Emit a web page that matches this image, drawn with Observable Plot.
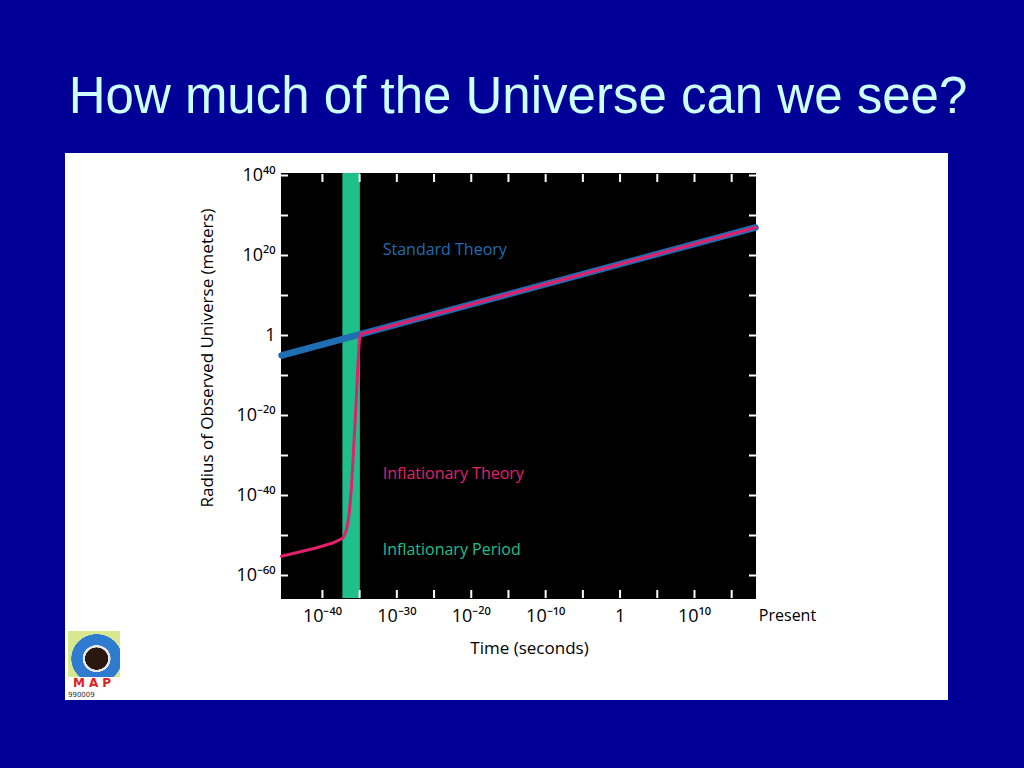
<!DOCTYPE html>
<html>
<head>
<meta charset="utf-8">
<script src="https://cdn.jsdelivr.net/npm/d3@7"></script>
<script src="https://cdn.jsdelivr.net/npm/@observablehq/plot@0.6"></script>
<style>
  html, body { margin: 0; padding: 0; }
  body { width: 1024px; height: 768px; background: #000096; position: relative; overflow: hidden; }
  #title { position: absolute; left: 0; width: 1036px; top: 71px; text-align: center;
           font-family: "Liberation Sans", Arial, sans-serif; font-size: 51px; line-height: 50px; color: #ccffff; }
  #chart { position: absolute; left: 65px; top: 153px; }
  #logo { position: absolute; left: 66px; top: 630px; width: 56px; height: 70px; background: #fff; }
  #logo .pic { position: absolute; left: 2px; top: 1px; width: 52px; height: 46px;
               background: radial-gradient(ellipse at 55% 60%, #2a1810 0 28%, #e8e8e8 29% 34%, #2f7bd0 35% 62%, #d8e890 63%); }
  #logo .map { position: absolute; left: 0; top: 46px; width: 56px; text-align: center; font: bold 12px "DejaVu Sans", sans-serif; color: #e02020; letter-spacing: 4px; }
  #logo .num { position: absolute; left: 2px; top: 61px; font: 7px "DejaVu Sans", sans-serif; color: #333; }
</style>
</head>
<body>
<div id="title">How much of the Universe can we see?</div>
<div id="chart"></div>
<div id="logo"><div class="pic"></div><div class="map">MAP</div><div class="num">990009</div></div>
<script>
// Values are base-10 exponents (log10 of seconds / meters)
const xDomain = [-45.5, 18.2];
const yDomain = [-65.75, 40.5];

const standardTime = [-45.5, 18.2];
const standardRadius = [-5, 27];

const inflationTime =   [-45.5, -41.0, -38.5, -37.3, -37.0, -36.7, -36.4, -36.1, -35.8, -35.5, -35.25, -35.05, -34.9, 18.2];
const inflationRadius = [-55.2, -53.2, -51.8, -50.7, -49.8, -48.0, -44.5, -38.0, -28.0, -18.0, -8.0, -1.5, 0.3, 27];

const inflationPeriod = [-37.25, -34.9];

const xTickValues = [-40, -30, -20, -10, 0, 10];
const xTickLabels = ["10⁻⁴⁰", "10⁻³⁰", "10⁻²⁰", "10⁻¹⁰", "1", "10¹⁰"];
const xMinorTicks = [-40, -35, -30, -25, -20, -15, -10, -5, 0, 5, 10, 15];
const presentTime = [22.5];
const presentLabel = "Present";

const yTickValues = [40, 20, 0, -20, -40, -60];
const yTickLabels = ["10⁴⁰", "10²⁰", "1", "10⁻²⁰", "10⁻⁴⁰", "10⁻⁶⁰"];
const yMinorTicks = [40, 30, 20, 10, 0, -10, -20, -30, -40, -50, -60];

const seriesLabels = ["Standard Theory", "Inflationary Theory", "Inflationary Period"];
const seriesLabelTime = [-31.9, -31.9, -31.9];
const seriesLabelRadius = [21.5, -34.5, -53.5];
const seriesColors = ["#1f6db2", "#e0206c", "#1fbf8c"];

const xLabel = "Time (seconds)";
const yLabel = "Radius of Observed Universe (meters)";

const standard = standardTime.map((t, i) => ({t, r: standardRadius[i]}));
const inflation = inflationTime.map((t, i) => ({t, r: inflationRadius[i]}));
const labels = seriesLabels.map((s, i) => ({s, t: seriesLabelTime[i], r: seriesLabelRadius[i], c: seriesColors[i]}));

const chart = Plot.plot({
  width: 883,
  height: 547,
  marginLeft: 216,
  marginRight: 193,
  marginTop: 20,
  marginBottom: 102,
  style: {background: "white", fontFamily: "'Open Sans', sans-serif", overflow: "visible"},
  x: {domain: xDomain},
  y: {domain: yDomain},
  marks: [
    Plot.frame({fill: "black", stroke: "black"}),
    Plot.rect([inflationPeriod], {x1: d => d[0], x2: d => d[1], fill: seriesColors[2]}),
    Plot.line(standard, {x: "t", y: "r", stroke: seriesColors[0], strokeWidth: 6.5}),
    Plot.line(inflation, {x: "t", y: "r", stroke: seriesColors[1], strokeWidth: 3}),
    Plot.text(labels, {x: "t", y: "r", text: "s", fill: "c", textAnchor: "start", fontSize: 16}),
    Plot.axisX({anchor: "top", ticks: xMinorTicks, tickSize: -8, tickFormat: () => "", stroke: "white", strokeWidth: 2, label: null}),
    Plot.axisX({anchor: "bottom", ticks: xMinorTicks, tickSize: -8, tickFormat: () => "", stroke: "white", strokeWidth: 2, label: null}),
    Plot.axisY({anchor: "left", ticks: yMinorTicks, tickSize: -7, tickFormat: () => "", stroke: "white", strokeWidth: 2, label: null}),
    Plot.axisY({anchor: "right", ticks: yMinorTicks, tickSize: -7, tickFormat: () => "", stroke: "white", strokeWidth: 2, label: null}),
    Plot.axisX({anchor: "bottom", ticks: xTickValues, tickSize: 0, tickPadding: 11,
                tickFormat: d => xTickLabels[xTickValues.indexOf(d)], fontSize: 18, fill: "black", label: null}),
    Plot.axisY({anchor: "left", ticks: yTickValues, tickSize: 0, tickPadding: 6,
                tickFormat: d => yTickLabels[yTickValues.indexOf(d)], fontSize: 18, fill: "black", label: null}),
    Plot.text(presentTime, {x: d => d, frameAnchor: "bottom", dy: 22, text: () => presentLabel, fontSize: 16, fill: "black", clip: false}),
    Plot.text([xLabel], {frameAnchor: "bottom", dx: 11, dy: 55, text: d => d, fontSize: 17, fill: "black"}),
    Plot.text([yLabel], {frameAnchor: "left", textAnchor: "middle", dx: -74, dy: -28, rotate: -90, text: d => d, fontSize: 17, fill: "black"})
  ]
});
document.getElementById("chart").appendChild(chart);
</script>
</body>
</html>
